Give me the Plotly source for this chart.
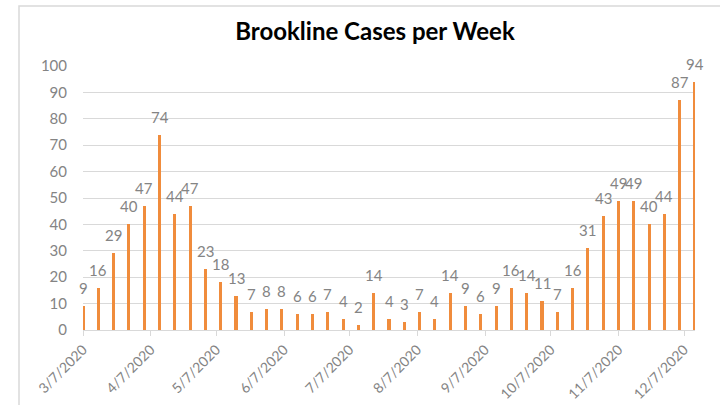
import plotly.graph_objects as go
import pandas as pd

start_week = "2020-03-07"
n_weeks = 41
cases = [9, 16, 29, 40, 47, 74, 44, 47, 23, 18, 13, 7, 8, 8, 6, 6, 7, 4, 2, 14,
         4, 3, 7, 4, 14, 9, 6, 9, 16, 14, 11, 7, 16, 31, 43, 49, 49, 40, 44, 87, 94]
tick_dates = ["2020-03-07", "2020-04-07", "2020-05-07", "2020-06-07", "2020-07-07",
              "2020-08-07", "2020-09-07", "2020-10-07", "2020-11-07", "2020-12-07"]
tick_labels = ["3/7/2020", "4/7/2020", "5/7/2020", "6/7/2020", "7/7/2020",
               "8/7/2020", "9/7/2020", "10/7/2020", "11/7/2020", "12/7/2020"]
title = "Brookline Cases per Week"

weeks = pd.date_range(start_week, periods=n_weeks, freq="7D")

W, H = 720, 405
L, R, T, B = 83, 695, 66, 330
FONT = "Lato, Open Sans, sans-serif"
GRAY = "#848484"

fig = go.Figure(go.Bar(
    x=weeks, y=cases,
    width=1.4 * 86400000,
    marker=dict(color="#F08C3C", line=dict(width=0)),
))

for d, v in zip(weeks, cases):
    fig.add_annotation(x=d, y=v, text=str(v), showarrow=False,
                       xanchor="center", yanchor="bottom", yshift=7,
                       font=dict(family=FONT, size=15, color=GRAY))

fig.update_layout(
    width=W, height=H,
    margin=dict(l=L, r=W - R, t=T, b=H - B, autoexpand=False),
    paper_bgcolor="white", plot_bgcolor="white",
    showlegend=False,
    bargap=0,
    title=dict(text="<b>" + title + "</b>", x=375 / W, xref="container", xanchor="center",
               y=1 - 32 / H, yref="container", yanchor="middle",
               font=dict(family=FONT, size=24, color="#000000")),
    xaxis=dict(
        type="date",
        range=[weeks[0], weeks[-1]],
        tickvals=pd.to_datetime(tick_dates), ticktext=tick_labels,
        tickangle=-45,
        ticks="outside", ticklen=5, tickcolor="#D9D9D9",
        showline=True, linecolor="#D9D9D9", linewidth=1,
        showgrid=False, automargin=False,
        tickfont=dict(family=FONT, size=14, color=GRAY),
    ),
    yaxis=dict(
        range=[0, 100], dtick=10,
        showgrid=True, gridcolor="#D9D9D9", gridwidth=1,
        zeroline=False, showline=False, automargin=False,
        ticklabelstandoff=15,
        tickfont=dict(family=FONT, size=15, color=GRAY),
    ),
    shapes=[dict(type="rect", xref="paper", yref="paper",
                 x0=(19 - L) / (R - L), x1=1.2,
                 y0=-0.5, y1=(B - 6) / (B - T),
                 line=dict(color="#D9D9D9", width=1.5), fillcolor="rgba(0,0,0,0)",
                 layer="below")],
)

fig.write_html("out.html")
